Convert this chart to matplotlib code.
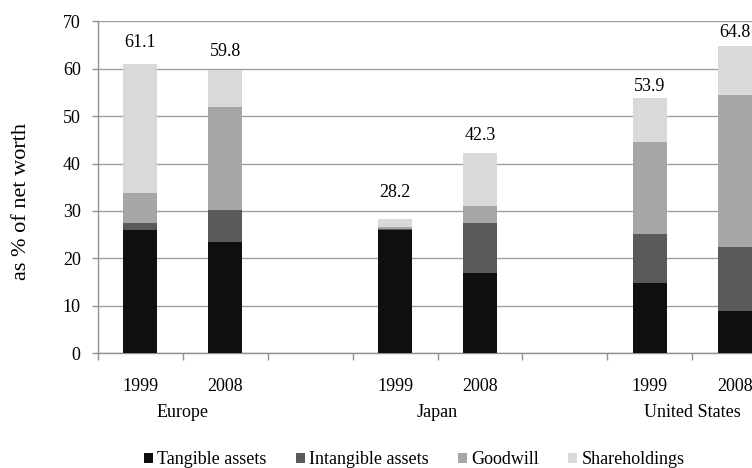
import matplotlib.pyplot as plt
import numpy as np

# Composition of assets, as % of net worth
regions = ['Europe', 'Japan', 'United States']
years = ['1999', '2008']
tangible = [26.0, 23.4, 25.9, 16.8, 14.7, 8.8]
intangible = [1.4, 6.8, 0.2, 10.6, 10.4, 13.6]
goodwill = [6.4, 21.7, 0.6, 3.7, 19.4, 32.0]
totals = [61.1, 59.8, 28.2, 42.3, 53.9, 64.8]
series_names = ['Tangible assets', 'Intangible assets', 'Goodwill', 'Shareholdings']

# shareholdings fill the bar up to the stated total
shareholdings = [t - a - b - c for t, a, b, c in zip(totals, tangible, intangible, goodwill)]

colors = ['#0f0f0f', '#5a5a5a', '#a6a6a6', '#d9d9d9']
label_offsets = [21, 18, 27, 17, 11, 14]  # px above bar top, label centre

plt.rcParams['font.family'] = ['Liberation Serif', 'DejaVu Serif']
plt.rcParams['font.size'] = 13

fig = plt.figure(figsize=(7.52, 4.68), dpi=100)
# plot area runs past the right edge of the figure
ax = fig.add_axes([98 / 752, 115 / 468, 679 / 752, 331.6 / 468])

# two bars per region, an empty slot between regions
x = np.array([0, 1, 3, 4, 6, 7])
bottom = np.zeros(len(x))
for vals, name, col in zip([tangible, intangible, goodwill, shareholdings], series_names, colors):
    ax.bar(x, vals, width=0.4, bottom=bottom, color=col, label=name, zorder=3)
    bottom += np.array(vals)

for xi, tot, off in zip(x, totals, label_offsets):
    ax.annotate(f'{tot:.1f}', (xi, tot), xytext=(0, off * 0.72), textcoords='offset points',
                ha='center', va='center', fontsize=13)

ax.set_xlim(-0.5, 7.5)
ax.set_ylim(0, 70)
ax.set_yticks(range(0, 71, 10))
ax.yaxis.grid(True, color='#a0a0a0', linewidth=1.0, zorder=0)
ax.set_axisbelow(True)

ax.set_xticks(x)
ax.set_xticklabels(years * len(regions))
ax.set_xticks(np.arange(-0.5, 8.0, 1.0), minor=True)
ax.tick_params(axis='x', which='major', length=0, pad=24, labelsize=13)
ax.tick_params(axis='x', which='minor', length=5, color='#909090', width=1)
ax.tick_params(axis='y', length=4.5, color='#909090', width=1, pad=8, labelsize=13)
for lab in ax.get_xticklabels():
    lab.set_va('center')

for sp in ['top', 'right']:
    ax.spines[sp].set_visible(False)
for sp in ['left', 'bottom']:
    ax.spines[sp].set_color('#909090')
    ax.spines[sp].set_linewidth(1)

# region names under each pair of years
for i, reg in enumerate(regions):
    ax.text(x[2 * i] + 0.5, -0.178, reg, transform=ax.get_xaxis_transform(),
            ha='center', va='center', fontsize=13)

fig.text(22 / 752, 1 - 202 / 468, 'as % of net worth', rotation=90,
         ha='center', va='center', fontsize=16)

fig.legend(loc='center', bbox_to_anchor=(414 / 752, 1 - 460 / 468), ncol=4, frameon=False,
           handlelength=0.5, handleheight=0.5, handletextpad=0.25, columnspacing=1.6,
           fontsize=13, borderaxespad=0)

fig.savefig('out.png', dpi=100)
